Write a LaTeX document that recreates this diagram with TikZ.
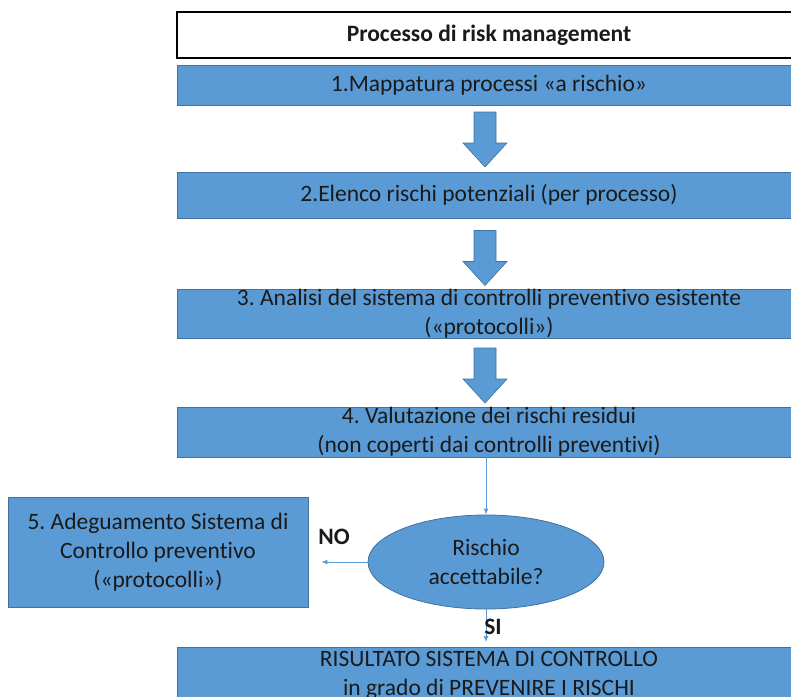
\documentclass[tikz,border=0pt]{standalone}
\usepackage{fontspec}
\setmainfont{Carlito}[Ligatures={NoCommon}]
\usetikzlibrary{shapes.geometric,calc,arrows.meta}
\definecolor{boxblue}{HTML}{5B9BD5}
\definecolor{edgeblue}{HTML}{41719C}
\definecolor{txt}{HTML}{1A1A1A}
\frenchspacing
\begin{document}
\begin{tikzpicture}[x=1pt,y=-1pt,
  every node/.style={font=\fontsize{23.5}{29}\selectfont\frenchspacing, text=txt, align=center, inner sep=0pt},
  header/.style={draw=black, line width=1.2pt, fill=white, minimum width=624pt, minimum height=46pt, font=\fontsize{23.5}{29}\selectfont\bfseries},
  stepbox/.style={draw=edgeblue, line width=0.8pt, fill=boxblue, minimum width=624pt},
  sidebox/.style={draw=edgeblue, line width=0.8pt, fill=boxblue, minimum width=300pt, minimum height=110pt},
  decision/.style={ellipse, draw=edgeblue, line width=0.8pt, fill=boxblue, minimum width=236pt, minimum height=94pt},
  arrowfill/.style={draw=edgeblue, line width=0.6pt, fill=boxblue, line join=miter},
  blockarrow/.pic={\path[arrowfill] (-11,-27.5) -- (11,-27.5) -- (11,3.5) -- (22,3.5) -- (0,27.5) -- (-22,3.5) -- (-11,3.5) -- cycle;},
  thinarrow/.style={draw=boxblue, line width=1pt, -{Latex[length=6pt,width=5pt]}},
  lbl/.style={font=\fontsize{23.5}{29}\selectfont\bfseries}]
\useasboundingbox (0,0) rectangle (791,696);
\node[header] (h) at (489,35) {Processo di risk management};
\node[stepbox, minimum height=40pt] (b1) at (489,85.5) {1.Mappatura processi «a rischio»};
\node[stepbox, minimum height=46pt] (b2) at (489,195) {2.Elenco rischi potenziali (per processo)};
\node[stepbox, minimum height=47pt] (b3) at (489,313.5) {3. Analisi del sistema di controlli preventivo esistente\\(«protocolli»)};
\node[stepbox, minimum height=50pt] (b4) at (489,432) {4. Valutazione dei rischi residui\\(non coperti dai controlli preventivi)};
\node[decision] (d) at (486,562) {Rischio\\accettabile?};
\node[sidebox] (b5) at (158,552) {5. Adeguamento Sistema di\\Controllo preventivo\\(«protocolli»)};
\node[stepbox, minimum height=56pt, anchor=north] (b6) at (489,647) {RISULTATO SISTEMA DI CONTROLLO\\in grado di PREVENIRE I RISCHI};
\pic at (485,139.5) {blockarrow};
\pic at (485,258) {blockarrow};
\pic at (485,375.5) {blockarrow};
\coordinate (no) at ($(b5.east)+(13,0)$);
\draw[thinarrow] (b4.south -| d.north) -- (d.north);
\draw[thinarrow] (d.west) -- (no |- d.west);
\draw[thinarrow] (d.south) -- ($(b6.north -| d.south)+(0,-5)$);
\node[lbl] (nolbl) at (334,537) {NO};
\node[lbl] (silbl) at (493,627) {SI};
\end{tikzpicture}
\end{document}
